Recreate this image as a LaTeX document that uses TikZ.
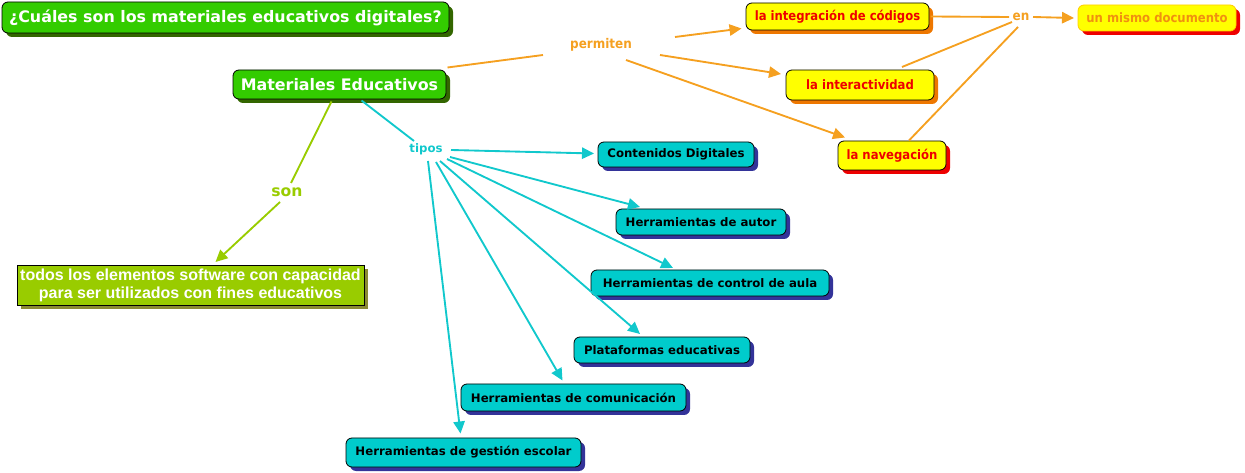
\documentclass[tikz,border=0pt]{standalone}
\usepackage{fontspec}
\setmainfont{DejaVu Sans}
\newfontfamily\cond{DejaVu Sans Condensed}
\newfontfamily\arialf{Liberation Sans}
\usetikzlibrary{shadows,calc,arrows.meta}
\definecolor{gfill}{HTML}{33CC00}
\definecolor{gshadow}{HTML}{336600}
\definecolor{cfill}{HTML}{00CCCC}
\definecolor{cshadow}{HTML}{333399}
\definecolor{yfill}{HTML}{FFFF00}
\definecolor{oshadow}{HTML}{EE7700}
\definecolor{rshadow}{HTML}{EE0000}
\definecolor{lfill}{HTML}{99CC00}
\definecolor{lshadow}{HTML}{8A8A33}
\definecolor{oline}{HTML}{F5A020}
\definecolor{cline}{HTML}{11C8CC}
\definecolor{ytext}{HTML}{EE0000}
\definecolor{utext}{HTML}{F09010}
\definecolor{uborder}{HTML}{FFCC00}
\tikzset{
  box/.style={rounded corners=4.5pt, draw=black, line width=0.6pt, inner sep=0pt, align=center},
  sh/.style={drop shadow={shadow xshift=3pt, shadow yshift=-3pt, fill=#1, opacity=1}},
  greenbox/.style={box, fill=gfill, text=white, font=\bfseries\fontsize{11.9}{13}\selectfont, sh=gshadow},
  cyanbox/.style={box, fill=cfill, text=black, font=\bfseries\fontsize{8.8}{10}\selectfont, sh=cshadow},
  yellowbox/.style={box, fill=yfill, text=ytext, font=\cond\bfseries\fontsize{9.7}{11}\selectfont, sh=#1},
  lbl/.style={inner sep=1pt, font=\cond\bfseries\fontsize{10}{11}\selectfont},
  oarrow/.style={draw=oline, line width=1.4pt},
  carrow/.style={draw=cline, line width=1.4pt},
  garrow/.style={draw=lfill, line width=1.4pt},
  tip/.style={-{Triangle[length=9pt,width=8.5pt]}},
}
\begin{document}
\begin{tikzpicture}[x=0.75pt,y=-0.75pt]
\useasboundingbox (0,0) rectangle (1245,473);
% nodes
\node[greenbox, minimum width=335.25pt, minimum height=23.25pt] (title) at (225.5,17.5) {¿Cuáles son los materiales educativos digitales?};
\node[greenbox, minimum width=159.75pt, minimum height=21.75pt] (mat) at (339.5,84.5) {Materiales Educativos};
\node[yellowbox=oshadow, minimum width=137.25pt, minimum height=20.25pt] (integ) at (837.5,16.5) {la integración de códigos};
\node[box, fill=yfill, draw=uborder, text=utext, font=\cond\bfseries\fontsize{9.7}{11}\selectfont, sh=rshadow, minimum width=118.5pt, minimum height=19.5pt] (mismo) at (1157,18) {un mismo documento};
\node[yellowbox=oshadow, minimum width=111pt, minimum height=22.5pt] (inter) at (860,85) {la interactividad};
\node[yellowbox=rshadow, minimum width=81pt, minimum height=21.75pt] (nav) at (892,155.5) {la navegación};
\node[cyanbox, minimum width=117pt, minimum height=18.75pt] (cont) at (676,154.5) {Contenidos Digitales};
\node[cyanbox, minimum width=127.5pt, minimum height=19.5pt] (hautor) at (701,222) {Herramientas de autor};
\node[cyanbox, minimum width=178.5pt, minimum height=19.5pt] (hcontrol) at (710,283) {Herramientas de control de aula};
\node[cyanbox, minimum width=132pt, minimum height=19.5pt] (plat) at (662,350) {Plataformas educativas};
\node[cyanbox, minimum width=168.75pt, minimum height=20.25pt] (hcom) at (573.5,397.5) {Herramientas de comunicación};
\node[cyanbox, minimum width=176.25pt, minimum height=21.75pt] (hgest) at (463.5,452.5) {Herramientas de gestión escolar};
\node[draw=black, line width=0.6pt, fill=lfill, text=white, inner sep=0pt, align=center,
      font=\arialf\bfseries\fontsize{12}{13.5}\selectfont, sh=lshadow,
      minimum width=260.25pt, minimum height=30pt] (todos) at (190.5,285)
      {todos los elementos software con capacidad\\para ser utilizados con fines educativos};
% labels
\node[lbl, text=oline] (perm) at (601,45) {permiten};
\node[lbl, text=oline] (en) at (1021,17) {en};
\node[lbl, text=cline, font=\bfseries\fontsize{8.8}{10}\selectfont] (tipos) at (426,149) {tipos};
\node[lbl, text=lfill, font=\bfseries\fontsize{11.7}{13}\selectfont] (son) at (287,192) {son};
% orange connectors
\draw[oarrow] ($(mat)+(108,-17)$) -- ($(perm)+(-58,10)$);
\draw[oarrow, tip] ($(perm)+(74,-8)$) -- ($(integ)+(-96,12)$);
\draw[oarrow, tip] ($(perm)+(59,10)$) -- ($(inter)+(-79,-11)$);
\draw[oarrow, tip] ($(perm)+(25,15)$) -- ($(nav)+(-47,-18)$);
\draw[oarrow] ($(integ)+(93,0)$) -- ($(en)+(-12,0)$);
\draw[oarrow, tip] ($(en)+(12,0)$) -- ($(mismo)+(-83,0)$);
\draw[oarrow] ($(inter)+(42,-18)$) -- ($(en)+(-9,5)$);
\draw[oarrow] ($(nav)+(17,-15)$) -- ($(en)+(-3,10)$);
% cyan connectors
\draw[carrow] ($(mat)+(22,16)$) -- ($(tipos)+(-12,-8)$);
\draw[carrow, tip] ($(tipos)+(25,1)$) -- ($(cont)+(-82,-1)$);
\draw[carrow, tip] ($(tipos)+(24,8)$) -- ($(hautor)+(-61,-15)$);
\draw[carrow, tip] ($(tipos)+(21,10)$) -- ($(hcontrol)+(-37,-15)$);
\draw[carrow, tip] ($(tipos)+(14,12)$) -- ($(plat)+(-22,-16)$);
\draw[carrow, tip] ($(tipos)+(10,13)$) -- ($(hcom)+(-11,-17)$);
\draw[carrow, tip] ($(tipos)+(2,12)$) -- ($(hgest)+(-3,-19)$);
% green connectors
\draw[garrow] ($(mat)+(-8,17)$) -- ($(son)+(4,-9)$);
\draw[garrow, tip] ($(son)+(-7,10)$) -- ($(todos)+(25,-23)$);
\end{tikzpicture}
\end{document}
